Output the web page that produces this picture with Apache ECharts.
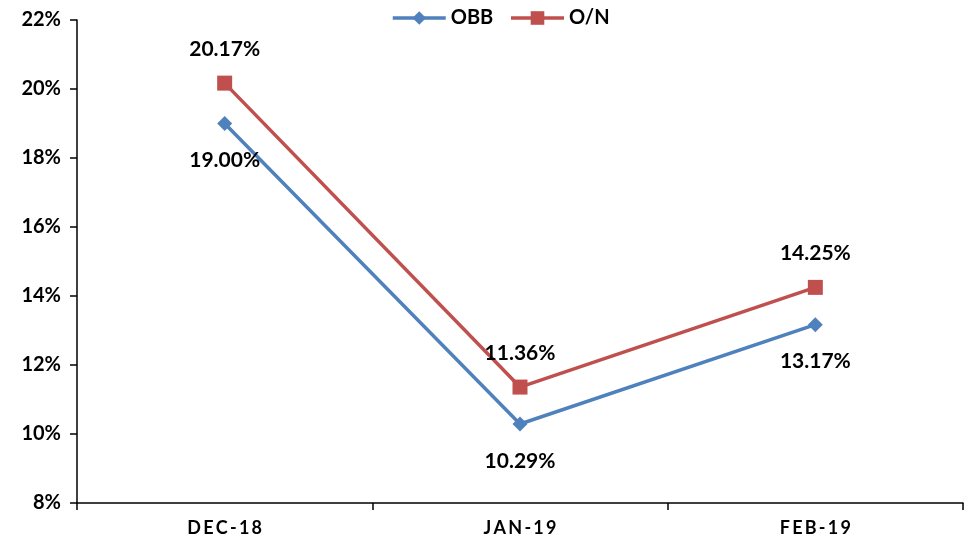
<!DOCTYPE html>
<html><head><meta charset="utf-8">
<script src="https://cdn.jsdelivr.net/npm/echarts@6/dist/echarts.min.js"></script>
<style>html,body{margin:0;padding:0;background:#fff}#c{width:965px;height:540px}</style>
</head><body><div id="c"></div>
<script>
var categories = ['DEC-18', 'JAN-19', 'FEB-19'];
var obb = [19.00, 10.29, 13.17];
var on = [20.17, 11.36, 14.25];
var yTicks = [8, 10, 12, 14, 16, 18, 20, 22];

var font = 'Lato, "Open Sans", sans-serif';
var chart = echarts.init(document.getElementById('c'));
chart.setOption({
  animation: false,
  backgroundColor: '#fff',
  legend: {
    top: 3, left: 386, itemWidth: 53, itemHeight: 17, itemGap: 16,
    lineStyle: {width: 3.5},
    textStyle: {fontFamily: font, fontWeight: 'bold', fontSize: 20, color: '#000'},
    data: [
      {name: 'OBB', lineStyle: {width: 3.5}},
      {name: 'O/N', lineStyle: {width: 3.5}}
    ]
  },
  grid: {left: 77, right: 2, top: 20, bottom: 37, containLabel: false},
  xAxis: {
    type: 'category', data: categories, boundaryGap: true,
    axisLine: {lineStyle: {color: '#000', width: 1.5}},
    axisTick: {show: true, length: 7, lineStyle: {color: '#000', width: 1.5}},
    axisLabel: {
      fontFamily: font, fontWeight: 'bold', fontSize: 18, color: '#000', margin: 16,
      formatter: function (v) { return v.split('').join('\u2009'); }
    }
  },
  yAxis: {
    type: 'value', min: yTicks[0], max: yTicks[yTicks.length - 1], interval: 2,
    axisLine: {show: true, lineStyle: {color: '#000', width: 1.5}},
    axisTick: {show: true, length: 7, lineStyle: {color: '#000', width: 1.5}},
    splitLine: {show: false},
    axisLabel: {fontFamily: font, fontWeight: 'bold', fontSize: 20, color: '#000', margin: 16,
      formatter: function (v) { return v + '%'; }}
  },
  series: [
    {
      name: 'OBB', type: 'line', data: obb, symbol: 'diamond', symbolSize: 15,
      itemStyle: {color: '#4F81BD'}, lineStyle: {color: '#4F81BD', width: 3.5},
      label: {show: true, position: 'bottom', distance: 19, fontFamily: font, fontWeight: 'bold', fontSize: 21, color: '#000',
        formatter: function (p) { return p.value.toFixed(2) + '%'; }}
    },
    {
      name: 'O/N', type: 'line', data: on, symbol: 'rect', symbolSize: 15,
      itemStyle: {color: '#C0504D'}, lineStyle: {color: '#C0504D', width: 3.5},
      label: {show: true, position: 'top', distance: 16, fontFamily: font, fontWeight: 'bold', fontSize: 21, color: '#000',
        formatter: function (p) { return p.value.toFixed(2) + '%'; }}
    }
  ]
});
</script></body></html>
